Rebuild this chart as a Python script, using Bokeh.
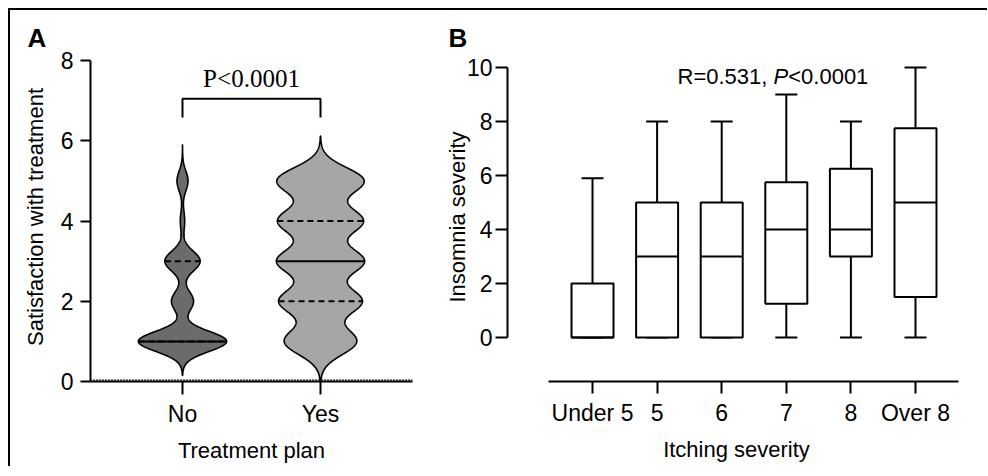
import numpy as np
from bokeh.plotting import figure
from bokeh.models import Range1d, FixedTicker, Label, Span, Div
from bokeh.layouts import row, column
from bokeh.embed import file_html
from bokeh.resources import INLINE

# ---------------- data ----------------
# Panel A: satisfaction score counts per treatment-plan group
scores = [0, 1, 2, 3, 4, 5, 6]
no_counts = [0, 40, 10, 16, 2, 5, 0]
yes_counts = [0, 34, 39, 41, 40, 41, 0]
groups = ["No", "Yes"]
a_yticks = [0, 2, 4, 6, 8]
p_text_a = "P<0.0001"

# Panel B: insomnia severity by itching severity (box plot summary)
itch_cats = ["Under 5", "5", "6", "7", "8", "Over 8"]
whisk_low = [0, 0, 0, 0, 0, 0]
box_q1 = [0, 0, 0, 1.25, 3, 1.5]
box_med = [0, 3, 3, 4, 4, 5]
box_q3 = [2, 5, 5, 5.75, 6.25, 7.75]
whisk_high = [5.9, 8, 8, 9, 8, 10]
b_yticks = [0, 2, 4, 6, 8, 10]

FONT = "Liberation Sans"


def style_axes(p):
    for ax in list(p.xaxis) + list(p.yaxis):
        ax.axis_line_width = 2
        ax.axis_line_color = "black"
        ax.major_tick_line_width = 2
        ax.major_tick_line_color = "black"
        ax.minor_tick_line_color = None
        ax.major_tick_in = 0
        ax.major_label_text_font = FONT
        ax.major_label_text_font_size = "23px"
        ax.major_label_text_color = "black"
        ax.axis_label_text_font = FONT
        ax.axis_label_text_font_size = "22px"
        ax.axis_label_text_font_style = "normal"
        ax.axis_label_text_color = "black"
    p.grid.visible = False
    p.outline_line_color = None
    p.background_fill_color = "white"
    p.border_fill_color = "white"
    p.title.text_font = FONT
    p.title.text_font_size = "26px"
    p.title.text_font_style = "bold"
    p.title.text_color = "black"
    p.title.align = "left"
    p.title.standoff = 0


# ---------------- Panel A: violins ----------------
pA = figure(width=412, height=456, x_range=Range1d(1 / 3, 8 / 3), y_range=Range1d(0, 8.2),
            output_backend="svg", toolbar_location=None, title="A",
            min_border_left=80, min_border_right=10, min_border_top=42, min_border_bottom=85)

fills = ["#6b6b6b", "#a6a6a6"]
bandwidths = [0.25, 0.33]
tails = [(0.85, 0.9), (0.97, 1.12)]
max_half = 0.32
for i, counts in enumerate([no_counts, yes_counts]):
    pos = i + 1
    sc = np.array(scores, dtype=float)
    ct = np.array(counts, dtype=float)
    nz = sc[ct > 0]
    grid = np.linspace(nz.min() - tails[i][0], nz.max() + tails[i][1], 600)
    dens = np.zeros_like(grid)
    for v, c in zip(sc, ct):
        dens += c * np.exp(-0.5 * ((grid - v) / bandwidths[i]) ** 2)
    scale = max_half / dens.max()
    half = dens * scale
    xs = np.concatenate([pos + half, (pos - half)[::-1]])
    ys = np.concatenate([grid, grid[::-1]])
    pA.patch(xs, ys, fill_color=fills[i], line_color="black", line_width=1.6)

    raw = np.repeat(sc, ct.astype(int))
    q1, med, q3 = np.percentile(raw, [25, 50, 75])

    def hw(y):
        return float(np.interp(y, grid, half))

    for qv in (q1, q3):
        pA.segment(x0=[pos - hw(qv)], x1=[pos + hw(qv)], y0=[qv], y1=[qv],
                   line_color="black", line_width=2, line_dash="6 4")
    pA.segment(x0=[pos - hw(med)], x1=[pos + hw(med)], y0=[med], y1=[med],
               line_color="black", line_width=2)

# dotted line at y = 0
pA.add_layout(Span(location=0, dimension="width", line_color="black",
                   line_width=5, line_dash="1 2"))

# significance bracket
br_low, br_high = 6.58, 7.05
pA.line([1, 1, 2, 2], [br_low, br_high, br_high, br_low], line_color="black", line_width=2)
pA.add_layout(Label(x=1.5, y=7.55, text=p_text_a, text_align="center",
                    text_baseline="alphabetic", text_font="Liberation Serif",
                    text_font_size="25px", text_color="black"))

style_axes(pA)
pA.title.offset = -63
pA.yaxis.ticker = FixedTicker(ticks=a_yticks)
pA.yaxis.bounds = (0, 8)
pA.yaxis.major_tick_out = 10
pA.yaxis.major_label_standoff = 7
pA.yaxis.axis_label = "Satisfaction with treatment"
pA.yaxis.axis_label_standoff = 10
pA.xaxis.ticker = FixedTicker(ticks=[1, 2])
pA.xaxis.major_label_overrides = {1: groups[0], 2: groups[1]}
pA.xaxis.major_tick_out = 13
pA.xaxis.major_label_standoff = 6
pA.xaxis.axis_label = "Treatment plan"
pA.xaxis.axis_label_standoff = 8

# ---------------- Panel B: box plots ----------------
pB = figure(width=551, height=456, x_range=Range1d(-0.316, 6.774), y_range=Range1d(-1.63, 10.556),
            output_backend="svg", toolbar_location=None, title="B",
            min_border_left=85, min_border_right=8, min_border_top=42, min_border_bottom=85)

xpos = list(range(1, len(itch_cats) + 1))
box_w = 0.65
cap_w = 0.34
pB.segment(x0=xpos, x1=xpos, y0=box_q3, y1=whisk_high, line_color="black", line_width=2)
pB.segment(x0=xpos, x1=xpos, y0=whisk_low, y1=box_q1, line_color="black", line_width=2)
pB.segment(x0=[x - cap_w / 2 for x in xpos], x1=[x + cap_w / 2 for x in xpos],
           y0=whisk_high, y1=whisk_high, line_color="black", line_width=2)
pB.segment(x0=[x - cap_w / 2 for x in xpos], x1=[x + cap_w / 2 for x in xpos],
           y0=whisk_low, y1=whisk_low, line_color="black", line_width=2)
pB.vbar(x=xpos, width=box_w, bottom=box_q1, top=box_q3, fill_color="white",
        line_color="black", line_width=2)
pB.segment(x0=[x - box_w / 2 for x in xpos], x1=[x + box_w / 2 for x in xpos],
           y0=box_med, y1=box_med, line_color="black", line_width=2)

r_x, r_y = 2.316, 9.67
pB.add_layout(Label(x=r_x, y=r_y, text="R=0.531, ", text_baseline="alphabetic",
                    text_font=FONT, text_font_size="22px", text_color="black"))
pB.add_layout(Label(x=r_x, y=r_y, x_offset=96, text="P", text_baseline="alphabetic",
                    text_font=FONT, text_font_size="22px", text_font_style="italic",
                    text_color="black"))
pB.add_layout(Label(x=r_x, y=r_y, x_offset=110.7, text="<0.0001", text_baseline="alphabetic",
                    text_font=FONT, text_font_size="22px", text_color="black"))

style_axes(pB)
pB.title.offset = -59
pB.yaxis.ticker = FixedTicker(ticks=b_yticks)
pB.yaxis.bounds = (0, 10)
pB.yaxis.major_tick_out = 12
pB.yaxis.major_label_standoff = 3
pB.yaxis.axis_label = "Insomnia severity"
pB.yaxis.axis_label_standoff = -6
pB.xaxis.ticker = FixedTicker(ticks=xpos)
pB.xaxis.major_label_overrides = {x: c for x, c in zip(xpos, itch_cats)}
pB.xaxis.bounds = (0.32, 6.67)
pB.xaxis.major_tick_out = 12
pB.xaxis.major_label_standoff = 6
pB.xaxis.axis_label = "Itching severity"
pB.xaxis.axis_label_standoff = 8

top_line = Div(text="", width=979, height=2, margin=0, styles={"background-color": "black"})
left_line = Div(text="", width=2, height=456, margin=0, styles={"background-color": "black"})
right_pad = Div(text="", width=14, height=456, margin=0, styles={"background-color": "white"})
layout = column(top_line, row(left_line, pA, pB, right_pad, spacing=0), spacing=0,
                margin=(8, 0, 0, 8))

with open("out.html", "w") as f:
    f.write(file_html(layout, INLINE))
